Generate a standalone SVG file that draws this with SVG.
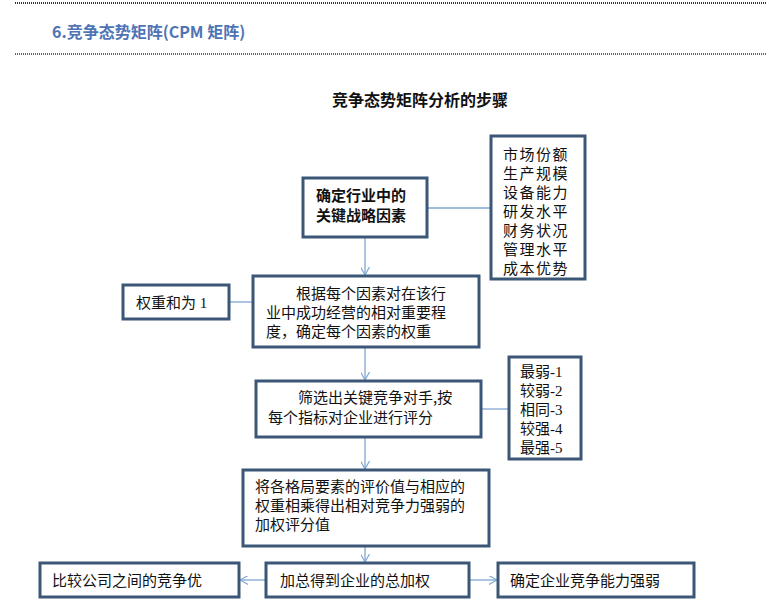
<svg xmlns="http://www.w3.org/2000/svg" width="766" height="613" viewBox="0 0 766 613">
<style>
.b{fill:#fff;stroke:#3b5677;stroke-width:3}
.t{font-family:"Liberation Serif","Noto Sans CJK SC",serif;font-size:15px;fill:#111}
.s{font-family:"Noto Sans CJK SC",sans-serif;font-size:15px;fill:#111}
.c{stroke:#7ea6d3;stroke-width:1.3;fill:none}
</style>
<defs><marker id="a" viewBox="0 0 10 10" refX="9" refY="5" markerWidth="9" markerHeight="9" orient="auto" markerUnits="userSpaceOnUse"><path d="M0,0 L9,5 L0,10" fill="none" stroke="#7ea6d3" stroke-width="1.3"/></marker></defs>
<rect width="766" height="613" fill="#fff"/>
<line x1="15" y1="3" x2="766" y2="3" stroke="#333" stroke-width="2" stroke-dasharray="1,1"/>
<line x1="15" y1="54" x2="766" y2="54" stroke="#333" stroke-width="1.5" stroke-dasharray="1,1"/>
<text x="52" y="38" font-family="Noto Sans CJK SC,sans-serif" font-size="16" font-weight="bold" fill="#4f74b5">6.竞争态势矩阵(CPM 矩阵)</text>
<text x="420" y="106" text-anchor="middle" font-family="Noto Sans CJK SC,sans-serif" font-size="16" font-weight="bold" fill="#111">竞争态势矩阵分析的步骤</text>
<g id="connectors">
<line class="c" x1="365" y1="237" x2="365" y2="275" marker-end="url(#a)"/>
<line class="c" x1="427" y1="208" x2="491" y2="208"/>
<line class="c" x1="229" y1="302" x2="253" y2="302"/>
<line class="c" x1="365" y1="347" x2="365" y2="380" marker-end="url(#a)"/>
<line class="c" x1="481" y1="409" x2="509" y2="409"/>
<line class="c" x1="365" y1="437" x2="365" y2="469" marker-end="url(#a)"/>
<line class="c" x1="365" y1="546" x2="365" y2="562" marker-end="url(#a)"/>
<line class="c" x1="266" y1="580" x2="240" y2="580" marker-end="url(#a)"/>
<line class="c" x1="469" y1="580" x2="497" y2="580" marker-end="url(#a)"/>
</g>
<g id="n1"><rect class="b" x="303" y="178" width="124" height="59"/>
<text class="s" font-weight="bold"><tspan x="316" y="201">确定行业中的</tspan><tspan x="316" y="221">关键战略因素</tspan></text></g>
<g id="n2"><rect class="b" x="491" y="136" width="94" height="143"/>
<text class="s" letter-spacing="1.5"><tspan x="503" y="160">市场份额</tspan><tspan x="503" y="179">生产规模</tspan><tspan x="503" y="198">设备能力</tspan><tspan x="503" y="217">研发水平</tspan><tspan x="503" y="236">财务状况</tspan><tspan x="503" y="255">管理水平</tspan><tspan x="503" y="274">成本优势</tspan></text></g>
<g id="n3"><rect class="b" x="123" y="285" width="106" height="34"/>
<text class="t" x="136" y="308">权重和为 1</text></g>
<g id="n4"><rect class="b" x="253" y="276" width="226" height="71"/>
<text class="s"><tspan x="296" y="299">根据每个因素对在该行</tspan><tspan x="266" y="318">业中成功经营的相对重要程</tspan><tspan x="266" y="337">度，确定每个因素的权重</tspan></text></g>
<g id="n5"><rect class="b" x="256" y="381" width="225" height="56"/>
<text class="s"><tspan x="298" y="403">筛选出关键竞争对手,按</tspan><tspan x="268" y="423">每个指标对企业进行评分</tspan></text></g>
<g id="n6"><rect class="b" x="509" y="357" width="72" height="102"/>
<text class="t"><tspan x="520" y="377">最弱-1</tspan><tspan x="520" y="396">较弱-2</tspan><tspan x="520" y="415">相同-3</tspan><tspan x="520" y="434">较强-4</tspan><tspan x="520" y="453">最强-5</tspan></text></g>
<g id="n7"><rect class="b" x="243" y="470" width="246" height="76"/>
<text class="s"><tspan x="255" y="492">将各格局要素的评价值与相应的</tspan><tspan x="255" y="511">权重相乘得出相对竞争力强弱的</tspan><tspan x="255" y="530">加权评分值</tspan></text></g>
<g id="n8"><rect class="b" x="266" y="563" width="203" height="34"/>
<text class="s" x="280" y="586">加总得到企业的总加权</text></g>
<g id="n9"><rect class="b" x="40" y="563" width="199" height="34"/>
<text class="s" x="52" y="586">比较公司之间的竞争优</text></g>
<g id="n10"><rect class="b" x="498" y="563" width="196" height="34"/>
<text class="s" x="510" y="586">确定企业竞争能力强弱</text></g>
</svg>
